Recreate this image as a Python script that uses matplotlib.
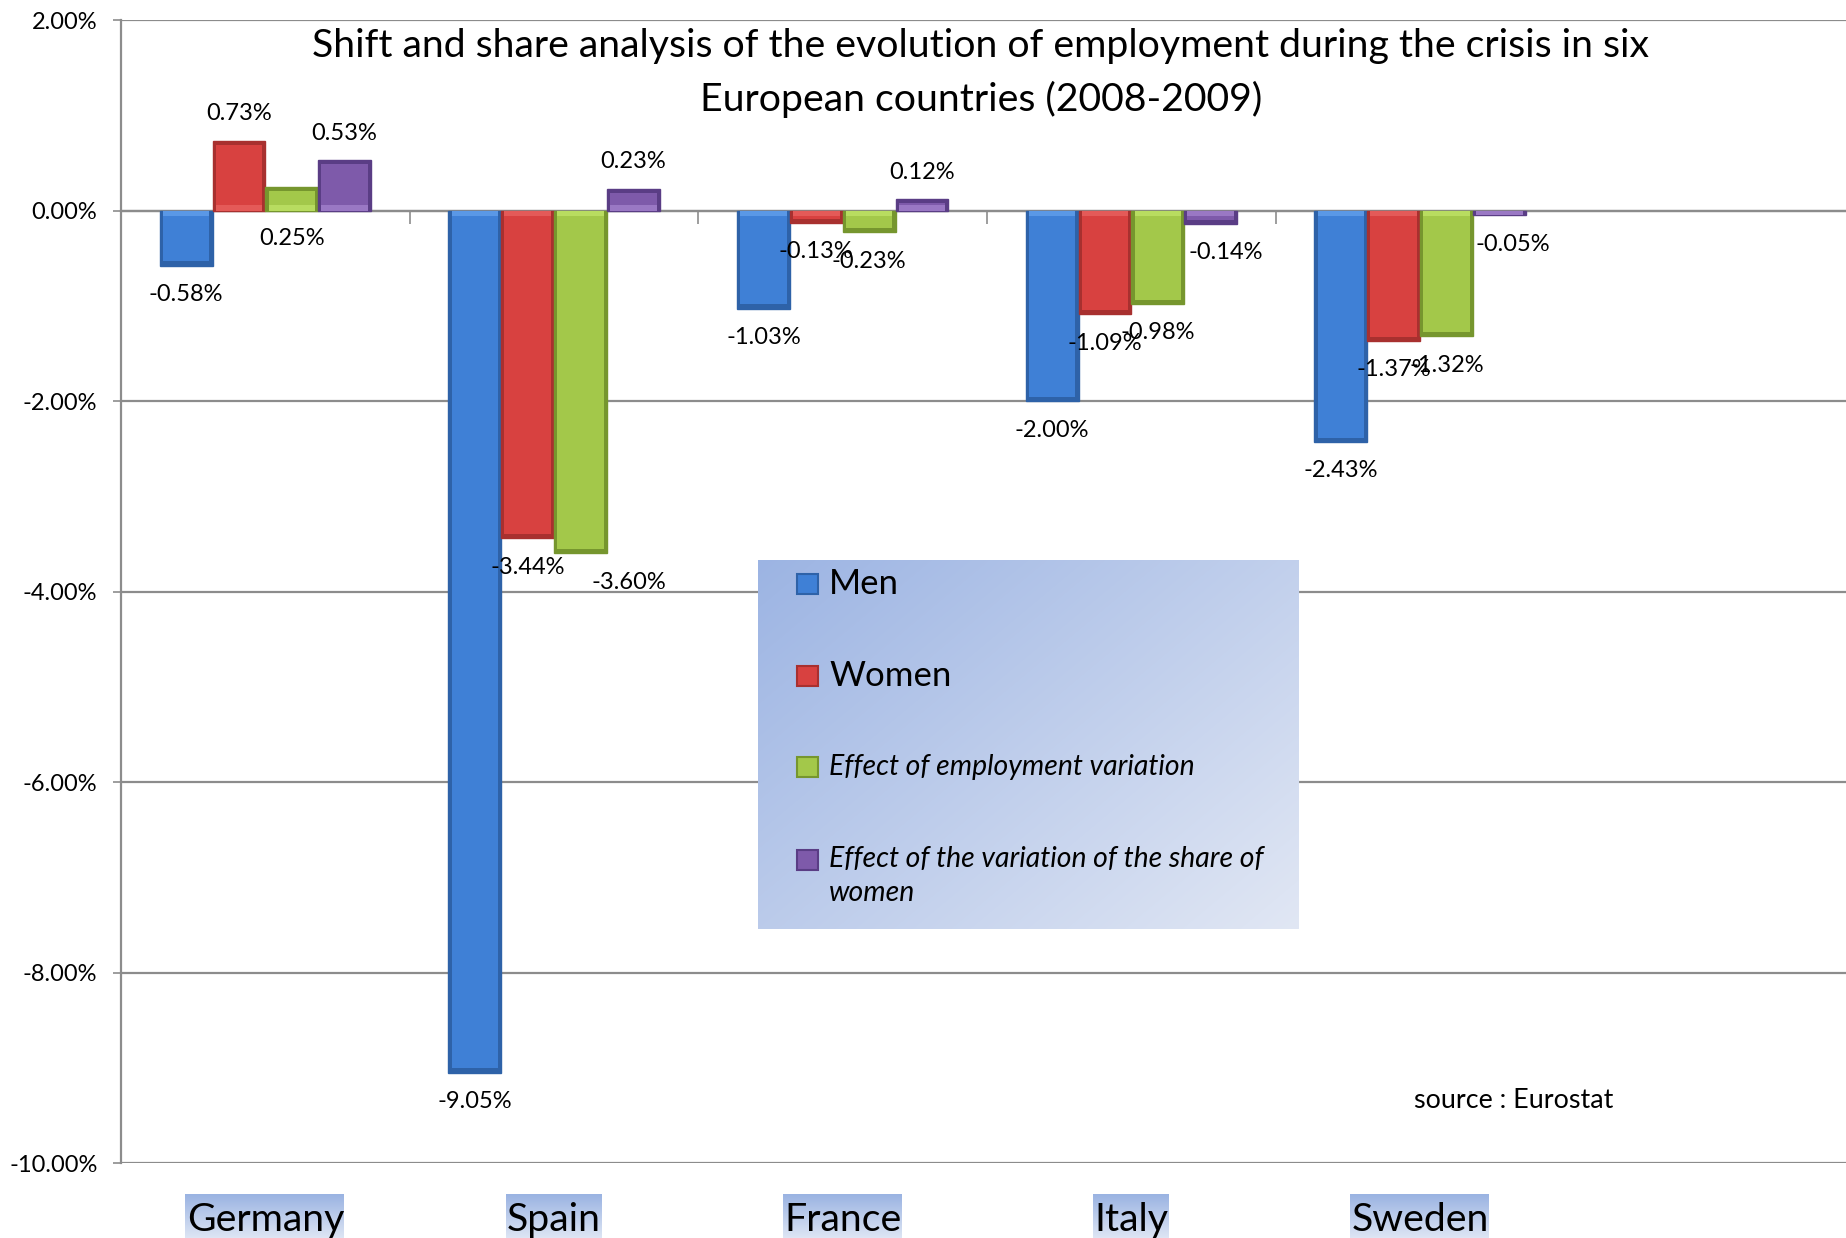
"""
Shift and share analysis of employment during the 2008-2009 crisis.
Grouped bar chart, Excel-style, with a gradient legend box.
"""
import matplotlib.pyplot as plt
import numpy as np
from matplotlib.patches import Rectangle
from matplotlib.transforms import blended_transform_factory
from matplotlib.colors import to_rgb

plt.rcParams["font.family"] = ["Lato", "DejaVu Sans"]

countries = ["Germany", "Spain", "France", "Italy", "Sweden"]
series_names = ["Men", "Women", "Effect of employment variation",
                "Effect of the variation of the share of\nwomen"]
men               = [-0.58, -9.05, -1.03, -2.00, -2.43]
women             = [0.73, -3.44, -0.13, -1.09, -1.37]
effect_employment = [0.25, -3.60, -0.23, -0.98, -1.32]
effect_share      = [0.53, 0.23, 0.12, -0.14, -0.05]
yticks = [2, 0, -2, -4, -6, -8, -10]

title = ("Shift and share analysis of the evolution of employment during the crisis in six\n"
         "European countries (2008-2009)")
source = "source : Eurostat"

# styles
face  = ["#3f80d6", "#d84140", "#a3c84a", "#7e5aaa"]
light = ["#5a98e6", "#e45a58", "#b8dc60", "#9a78c4"]
edge  = ["#2e62a8", "#a8302f", "#76962e", "#5a3d85"]
# manual label nudges (pixels) where the original labels were dragged
nudges = {(0, 2): (0, -79), (1, 2): (48, 0), (3, 3): (15, 0), (4, 3): (13, 0)}

W, H = 1846, 1238
fig = plt.figure(figsize=(W / 100, H / 100), dpi=100)
ax = fig.add_axes([121 / W, 1 - 1163 / H, (W - 121) / W, (1163 - 20) / H])

values = [men, women, effect_employment, effect_share]
x = np.arange(len(countries))
bw = 0.183
for j, vals in enumerate(values):
    xs = x + (j - 1.5) * bw
    v = np.array(vals)
    ax.bar(xs, v, bw, color=edge[j], edgecolor=edge[j], lw=1.0, zorder=3)
    # inner face, inset to give a bevelled look
    inset = 0.045
    inner = np.where(v < 0, np.minimum(v + inset, -0.0), np.maximum(v - inset, 0.0))
    ax.bar(xs, inner, bw - 0.022, color=face[j], lw=0, zorder=4)
    ax.bar(xs, np.sign(v) * np.minimum(np.abs(v), 0.06), bw - 0.022,
           color=light[j], lw=0, zorder=4.5)
    for i, val in enumerate(vals):
        dx, dy = nudges.get((i, j), (0, 0))
        off = 27 if val >= 0 else -29
        ax.annotate(f"{val:.2f}%", (xs[i], val), xytext=(dx, off + dy),
                    textcoords="offset pixels", ha="center", va="center",
                    fontsize=17, zorder=6, annotation_clip=False)

ax.set_xlim(-0.5, -0.5 + (W - 121) / 288.7)
ax.set_ylim(-10, 2)
ax.set_yticks(yticks)
ax.set_yticklabels([f"{t:.2f}%" for t in yticks], fontsize=17)
ax.yaxis.grid(True, color="#8c8c8c", lw=1.6, zorder=1)
ax.set_axisbelow(True)
ax.tick_params(axis="y", direction="out", length=6, width=1.2, color="#8c8c8c", pad=11)

# x axis sits on zero with tick marks at category boundaries
ax.spines["bottom"].set_position(("data", 0))
ax.spines["bottom"].set_color("#8c8c8c")
ax.spines["bottom"].set_linewidth(1.6)
ax.set_xticks(x[:-1] + 0.5)
ax.set_xticklabels([])
ax.tick_params(axis="x", direction="out", length=9, width=1.2, color="#8c8c8c")
ax.spines["left"].set_color("#8c8c8c")
ax.spines["left"].set_linewidth(1.6)
for s in ("top", "right"):
    ax.spines[s].set_visible(False)

fig.text(981 / W, 1 - 73 / H, title, ha="center", va="center", fontsize=28.3,
         linespacing=1.55)
ax.text(0.7496, 0.0551, source, transform=ax.transAxes, ha="left", va="center",
        fontsize=19.4)

# category labels below the plot, on gradient boxes
tr = blended_transform_factory(ax.transData, fig.transFigure)
labels = [fig.text(xi, 7 / H, c, transform=tr, ha="center", va="baseline",
                   fontsize=28.3, zorder=5) for xi, c in zip(x, countries)]

# legend box
lx0, ly0, lx1, ly1 = 758, 560, 1299, 929
lw_, lh_ = lx1 - lx0, ly1 - ly0
gx, gy = np.meshgrid(np.linspace(0, 1, lw_), np.linspace(0, 1, lh_))
t = (0.55 * gx + 0.45 * gy)[..., None]
c0, c1 = np.array(to_rgb("#9cb4e3")), np.array(to_rgb("#e1e7f4"))
fig.figimage(c0 + (c1 - c0) * t, xo=lx0, yo=H - ly1, origin="upper", zorder=1)

entry_y = [584, 676, 767, 860]
entry_fs = [25, 25, 20.4, 20.4]
entry_style = ["normal", "normal", "italic", "italic"]
for j, name in enumerate(series_names):
    yc = entry_y[j]
    fig.patches.append(Rectangle(((lx0 + 39) / W, 1 - (yc + 10) / H), 21 / W, 20 / H,
                                 transform=fig.transFigure, facecolor=face[j],
                                 edgecolor=edge[j], lw=1.5, zorder=4))
    fig.text((lx0 + 71) / W, 1 - (yc - 14 if j == 3 else yc) / H, name,
             ha="left", va="top" if j == 3 else "center",
             fontsize=entry_fs[j], style=entry_style[j], linespacing=1.4, zorder=5)

# gradient boxes behind category labels
fig.canvas.draw()
rend = fig.canvas.get_renderer()
cb0, cb1 = np.array(to_rgb("#9ab3e2")), np.array(to_rgb("#dde5f4"))
for lab in labels:
    bb = lab.get_window_extent(rend)
    top = int(bb.y1) + 8
    wpx = int(bb.width) + 2
    g = np.linspace(0, 1, top)[:, None, None] * np.ones((1, wpx, 1))
    fig.figimage(cb0 + (cb1 - cb0) * g, xo=int(bb.x0) - 1, yo=0, origin="upper", zorder=1)

fig.savefig("out.png", dpi=100)
